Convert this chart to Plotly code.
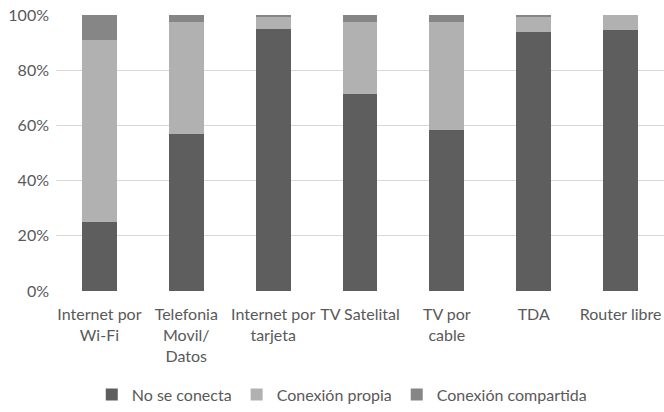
import plotly.graph_objects as go

categories = [
    "Internet por<br>Wi-Fi",
    "Telefonia<br>Movil/<br>Datos",
    "Internet por<br>tarjeta",
    "TV Satelital",
    "TV por<br>cable",
    "TDA",
    "Router libre",
]
no_se_conecta = [25.0, 57.0, 95.0, 71.5, 58.5, 93.8, 94.5]
conexion_propia = [66.0, 40.5, 4.5, 25.8, 38.9, 5.6, 5.5]
conexion_compartida = [9.0, 2.5, 0.5, 2.7, 2.6, 0.6, 0.0]
y_tick_values = [0, 20, 40, 60, 80, 100]
y_tick_labels = ["0%", "20%", "40%", "60%", "80%", "100%"]

series = [
    ("No se conecta", no_se_conecta, "#5e5e5e"),
    ("Conexión propia", conexion_propia, "#b1b1b1"),
    ("Conexión compartida", conexion_compartida, "#868686"),
]

fig = go.Figure()
for name, vals, color in series:
    fig.add_trace(go.Bar(
        name=name, x=categories, y=vals,
        marker=dict(color=color, line=dict(width=0)),
    ))

font_family = "Lato, 'Noto Sans', sans-serif"
text_color = "#595959"
fig.update_layout(
    barmode="stack",
    bargap=0.6,
    width=664, height=412,
    margin=dict(l=56, r=0, t=15, b=114),
    paper_bgcolor="white",
    plot_bgcolor="white",
    font=dict(family=font_family, size=16, color=text_color),
    showlegend=True,
    legend=dict(
        orientation="h", x=0.47, xanchor="center",
        y=-0.375, yanchor="middle",
        font=dict(size=16, color=text_color),
        traceorder="normal",
        itemwidth=30,
    ),
    xaxis=dict(
        showgrid=False, showline=False, ticks="",
        tickangle=0, ticklabelstandoff=12,
        tickfont=dict(size=16, color=text_color),
    ),
    yaxis=dict(
        range=[0, 100], tickmode="array",
        tickvals=y_tick_values, ticktext=y_tick_labels,
        showgrid=True, gridcolor="#d9d9d9", gridwidth=1,
        zeroline=False, showline=False,
        ticklabelstandoff=6,
        tickfont=dict(size=16, color=text_color),
    ),
)

fig.write_html("out.html")
